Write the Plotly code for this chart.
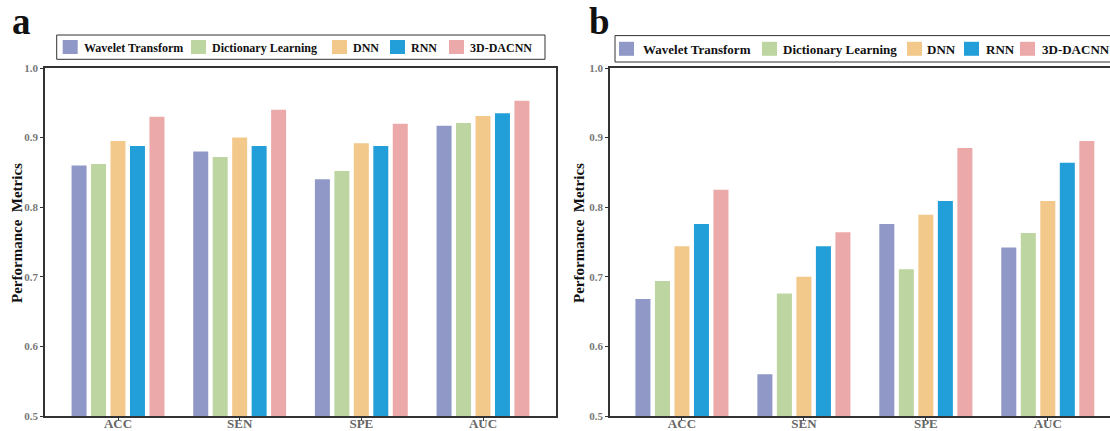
import plotly.graph_objects as go

categories = ["ACC", "SEN", "SPE", "AUC"]
methods = ["Wavelet Transform", "Dictionary Learning", "DNN", "RNN", "3D-DACNN"]
colors = ["#8F98C6", "#BDD5A0", "#F3C98B", "#229FD9", "#EBAAA9"]

# Panel a
a_wavelet = [0.860, 0.880, 0.840, 0.917]
a_dict = [0.862, 0.872, 0.852, 0.921]
a_dnn = [0.895, 0.900, 0.892, 0.931]
a_rnn = [0.888, 0.888, 0.888, 0.935]
a_dacnn = [0.930, 0.940, 0.920, 0.953]

# Panel b
b_wavelet = [0.668, 0.560, 0.776, 0.742]
b_dict = [0.694, 0.676, 0.711, 0.763]
b_dnn = [0.744, 0.700, 0.789, 0.809]
b_rnn = [0.776, 0.744, 0.809, 0.864]
b_dacnn = [0.825, 0.764, 0.885, 0.895]

a_vals = [a_wavelet, a_dict, a_dnn, a_rnn, a_dacnn]
b_vals = [b_wavelet, b_dict, b_dnn, b_rnn, b_dacnn]

SERIF = "Liberation Serif, Times New Roman, serif"
W, H = 1110, 431

def px(x):
    return x / W

def py(y):
    return 1 - y / H

fig = go.Figure()
for name, col, va in zip(methods, colors, a_vals):
    fig.add_trace(go.Bar(x=categories, y=va, name=name,
                         marker=dict(color=col, line=dict(width=0)),
                         xaxis="x", yaxis="y", showlegend=False))
for name, col, vb in zip(methods, colors, b_vals):
    fig.add_trace(go.Bar(x=categories, y=vb, name=name,
                         marker=dict(color=col, line=dict(width=0)),
                         xaxis="x2", yaxis="y2", showlegend=False))

ydom = [py(416), py(68)]
axcommon = dict(showgrid=False, zeroline=False, linecolor="#333", linewidth=1.6,
                ticks="outside", ticklen=3, tickcolor="#333", tickwidth=1, automargin=False)
xtick = dict(family=SERIF, size=13, color="#666")
ytick = dict(family=SERIF, size=11, color="#777")

shapes = []
annotations = []

# Manual legends (boxes, swatches, labels)
legends = [
    dict(box=(56.7, 35, 545, 59.3), sw=[62.7, 191, 332, 390, 449], tx=[82, 210, 351, 409, 468],
         yc=47, fs=12),
    dict(box=(615, 35.6, 1125, 62), sw=[619, 762, 907, 964, 1020], tx=[641, 781, 925, 984, 1040],
         yc=48.8, fs=13),
]
for lg in legends:
    x0, y0, x1, y1 = lg["box"]
    shapes.append(dict(type="rect", xref="paper", yref="paper", x0=px(x0), x1=px(x1),
                       y0=py(y1), y1=py(y0), line=dict(color="#333", width=1), fillcolor="white",
                       layer="above"))
    for name, col, sx, tx in zip(methods, colors, lg["sw"], lg["tx"]):
        shapes.append(dict(type="rect", xref="paper", yref="paper", x0=px(sx), x1=px(sx + 15),
                           y0=py(lg["yc"] + 7), y1=py(lg["yc"] - 7), line=dict(width=0),
                           fillcolor=col, layer="above"))
        annotations.append(dict(text="<b>%s</b>" % name, x=px(tx), y=py(lg["yc"] + 0.5),
                                xref="paper", yref="paper", xanchor="left", yanchor="middle",
                                showarrow=False, font=dict(family=SERIF, size=lg["fs"], color="#111")))

# y-axis titles
for xc in (17, 579):
    annotations.append(dict(text="<b>Performance  Metrics</b>", x=px(xc), y=py(233),
                            xref="paper", yref="paper", xanchor="center", yanchor="middle",
                            textangle=-90, showarrow=False,
                            font=dict(family=SERIF, size=15, color="#111")))

annotations += [
    dict(text="<b>a</b>", x=px(10), y=py(22), xref="paper", yref="paper",
         xanchor="left", yanchor="middle", showarrow=False,
         font=dict(family=SERIF, size=37, color="#111")),
    dict(text="<b>b</b>", x=px(587), y=py(21), xref="paper", yref="paper",
         xanchor="left", yanchor="middle", showarrow=False,
         font=dict(family=SERIF, size=37, color="#111")),
]

fig.update_layout(
    width=W, height=H, margin=dict(l=0, r=0, t=0, b=0, autoexpand=False),
    paper_bgcolor="white", plot_bgcolor="white",
    barmode="group", bargap=0.2, bargroupgap=0.23,
    showlegend=False,
    xaxis=dict(domain=[px(45), px(556)], range=[-0.6, 3.6], type="category",
               tickfont=xtick, mirror=True, showline=True, anchor="y",
               tickvals=categories, ticktext=["<b>%s</b>" % c for c in categories],
               ticklabelstandoff=-8, **axcommon),
    yaxis=dict(domain=ydom, range=[0.5, 1.0], dtick=0.1, tickformat=".1f", tickfont=ytick,
               mirror=True, showline=True, anchor="x",
               tickprefix="<b>", ticksuffix="</b>", **axcommon),
    xaxis2=dict(domain=[px(610), 1.0], range=[-0.59, 3.51], type="category",
                tickfont=xtick, mirror=True, showline=True, anchor="y2",
                tickvals=categories, ticktext=["<b>%s</b>" % c for c in categories],
                ticklabelstandoff=-8, **axcommon),
    yaxis2=dict(domain=ydom, range=[0.5, 1.0], dtick=0.1, tickformat=".1f", tickfont=ytick,
                mirror=False, showline=True, anchor="x2",
                tickprefix="<b>", ticksuffix="</b>", **axcommon),
    shapes=shapes,
    annotations=annotations,
)

fig.write_html("out.html", config={"displayModeBar": False},
               post_script="document.body.style.margin='0';document.body.style.overflow='hidden';")
